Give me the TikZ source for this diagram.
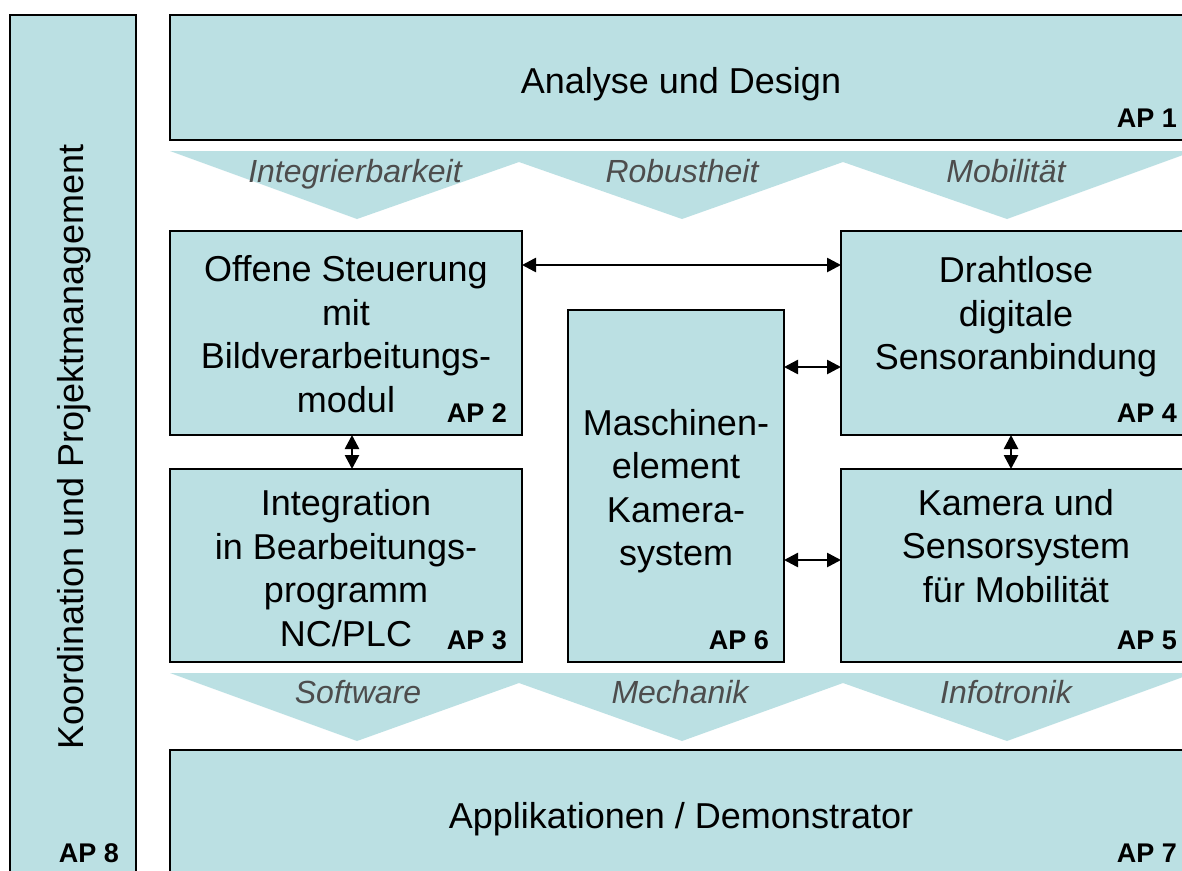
\documentclass[tikz,border=0pt]{standalone}
\usepackage{fontspec}
\setmainfont{Liberation Sans}
\usetikzlibrary{arrows.meta,calc}
\definecolor{boxfill}{RGB}{187,224,227}
\definecolor{labgray}{RGB}{77,77,77}
\tikzset{
  apbox/.style={draw=black, fill=boxfill, line width=1.5pt, inner sep=0pt, outer sep=0pt, anchor=north west},
  boxtext/.style={align=center, inner sep=0pt, font=\fontsize{36}{43.5}\selectfont},
  aplabel/.style={anchor=base east, inner sep=0pt, font=\fontsize{27}{30}\selectfont\bfseries},
  bandlabel/.style={anchor=base, inner sep=0pt, text=labgray, font=\fontsize{32}{38}\selectfont\itshape},
  dbl/.style={line width=2.6pt, {Triangle[length=14pt 0 0,width=14pt 0 0]}-{Triangle[length=14pt 0 0,width=14pt 0 0]}}
}
\begin{document}
\begin{tikzpicture}[x=1pt,y=-1pt]
\useasboundingbox (0,0) rectangle (1182,870);
\clip (0,0) rectangle (1182,870);
\fill[white] (0,0) rectangle (1182,870);

% boxes
\node[apbox, minimum width=126pt, minimum height=870pt] (ap8) at (10,15) {};
\node[apbox, minimum width=1022pt, minimum height=125pt] (ap1) at (170,15) {};
\node[apbox, minimum width=352pt, minimum height=204pt] (ap2) at (170,231) {};
\node[apbox, minimum width=352pt, minimum height=193pt] (ap3) at (170,469) {};
\node[apbox, minimum width=216pt, minimum height=352pt] (ap6) at (568,310) {};
\node[apbox, minimum width=351pt, minimum height=204pt] (ap4) at (841,231) {};
\node[apbox, minimum width=351pt, minimum height=193pt] (ap5) at (841,469) {};
\node[apbox, minimum width=1022pt, minimum height=135pt] (ap7) at (170,750) {};

% chevron bands
\fill[boxfill] (170,151) -- (1194,151) -- (1007,219) -- (843,162) -- (682,219) -- (519,162) -- (357,219) -- cycle;
\fill[boxfill] (170,673) -- (1194,673) -- (1007,741) -- (843,683) -- (682,741) -- (519,683) -- (357,741) -- cycle;

\node[bandlabel] (l1) at (355,182) {Integrierbarkeit};
\node[bandlabel] (l2) at (682,182) {Robustheit};
\node[bandlabel] (l3) at (1006,182) {Mobilität};
\node[bandlabel] (l4) at (358,703) {Software};
\node[bandlabel] (l5) at (680,703) {Mechanik};
\node[bandlabel] (l6) at (1006,703) {Infotronik};

% box texts
\node[boxtext, anchor=base] (t1) at (681,93) {Analyse und Design};
\node[boxtext, anchor=base] (t7) at (681,828) {Applikationen / Demonstrator};
\node[boxtext] (t2) at (346,334) {Offene Steuerung\\mit\\Bildverarbeitungs-\\modul};
\node[boxtext] (t3) at (346,568) {Integration\\in Bearbeitungs-\\programm\\NC/PLC};
\node[boxtext] (t6) at (676,491) {Maschinen-\\element\\Kamera-\\system};
\node[boxtext] (t4) at (1016,317) {Drahtlose\\digitale\\Sensoranbindung};
\node[boxtext] (t5) at (1016,546) {Kamera und\\Sensorsystem\\für Mobilität};
\node[boxtext, rotate=90] (t8) at (74,447) {Koordination und Projektmanagement};

% AP labels
\node[aplabel] (a1) at ($(ap1.south east)+(-15,-13)$) {AP 1};
\node[aplabel] (a2) at ($(ap2.south east)+(-15,-13)$) {AP 2};
\node[aplabel] (a3) at ($(ap3.south east)+(-15,-13)$) {AP 3};
\node[aplabel] (a4) at ($(ap4.south east)+(-15,-13)$) {AP 4};
\node[aplabel] (a5) at ($(ap5.south east)+(-15,-13)$) {AP 5};
\node[aplabel] (a6) at ($(ap6.south east)+(-15,-13)$) {AP 6};
\node[aplabel] (a7) at (1177,862) {AP 7};
\node[aplabel] (a8) at (119,862) {AP 8};

% connectors
\coordinate (y24) at (0,265);
\coordinate (y64) at (0,367);
\coordinate (y65) at (0,560);
\coordinate (x23) at (352,0);
\coordinate (x45) at (1011,0);
\draw[dbl] (ap2.east |- y24) -- (ap4.west |- y24);
\draw[dbl] (ap6.east |- y64) -- (ap4.west |- y64);
\draw[dbl] (ap6.east |- y65) -- (ap5.west |- y65);
\draw[dbl] (ap2.south -| x23) -- (ap3.north -| x23);
\draw[dbl] (ap4.south -| x45) -- (ap5.north -| x45);
\end{tikzpicture}
\end{document}
